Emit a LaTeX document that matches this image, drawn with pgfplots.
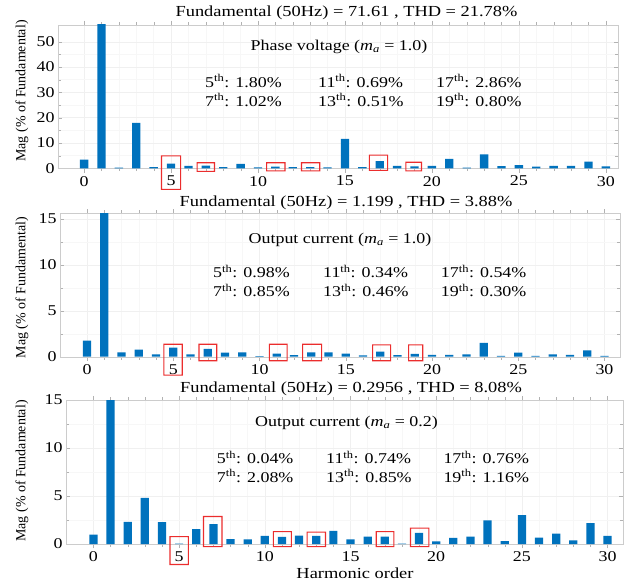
\documentclass[border=0pt]{standalone}
\usepackage{pgfplots}
\pgfplotsset{compat=1.18}
\usepackage{fontspec}
\setmainfont{Liberation Serif}[FakeStretch=1.2]
\newfontfamily\ylfont{Liberation Serif}
\definecolor{mblue}{RGB}{0,114,189}
\definecolor{boxred}{RGB}{235,45,45}

\pgfplotstableread{
h v
0 3.4
1 100
2 0.3
3 17.9
4 0.5
5 1.80
6 1.0
7 1.02
8 0.5
9 1.7
10 0.4
11 0.69
12 0.5
13 0.51
14 0.4
15 11.6
16 0.5
17 2.86
18 1.0
19 0.80
20 1.0
21 3.7
22 0.3
23 5.5
24 0.9
25 1.3
26 0.7
27 1.0
28 1.0
29 2.6
30 0.8
}\vphase

\pgfplotstableread{
h v
0 1.75
1 100
2 0.47
3 0.76
4 0.25
5 0.98
6 0.25
7 0.85
8 0.44
9 0.47
10 0.07
11 0.34
12 0.18
13 0.46
14 0.47
15 0.33
16 0.15
17 0.54
18 0.18
19 0.30
20 0.2
21 0.2
22 0.25
23 1.5
24 0.1
25 0.44
26 0.1
27 0.25
28 0.2
29 0.7
30 0.1
}\icurA

\pgfplotstableread{
h v
0 0.98
1 100
2 2.3
3 4.8
4 2.27
5 0.04
6 1.54
7 2.08
8 0.52
9 0.49
10 0.84
11 0.74
12 0.87
13 0.85
14 1.36
15 0.49
16 0.77
17 0.76
18 0.05
19 1.16
20 0.28
21 0.63
22 0.77
23 2.45
24 0.31
25 3.0
26 0.66
27 1.08
28 0.38
29 2.17
30 0.84
}\icurB

\pgfplotsset{harm/.style={
  scale only axis,
  ymin=0,
  xtick={0,5,...,30}, minor x tick num=4,
  grid=both, major grid style={gray!12}, minor grid style={gray!6},
  axis line style={gray!40}, tick style={gray!60},
  tick align=inside,
  ticklabel style={font=\fontsize{15}{18}\selectfont, text=black},
  /pgf/number format/assume math mode=true,
  clip mode=individual,
  ybar, bar width=0.48, bar shift=0pt,
}}
\tikzset{
  ttl/.style={font=\fontsize{15.4}{18}\selectfont, inner sep=0pt},
  sub/.style={font=\fontsize{15}{18}\selectfont, inner sep=0pt},
  hl/.style={font=\fontsize{15}{18}\selectfont, inner sep=0pt, anchor=west},
  yl/.style={font=\ylfont\fontsize{14}{16}\selectfont, inner sep=0pt, rotate=90},
}
% box corners defined inside an axis, drawn after it as a filled frame
\newcommand\bx[5]{\coordinate (#1a) at (axis cs:#2,#3); \coordinate (#1b) at (axis cs:#4,#5);}
\newcommand\drawboxes[1]{%
  \foreach \n in {#1}{%
    \fill[fill=boxred, even odd rule]
      ([shift={(-0.55pt,-0.55pt)}]\n a) rectangle ([shift={(0.55pt,0.55pt)}]\n b)
      ([shift={(0.55pt,0.55pt)}]\n a) rectangle ([shift={(-0.55pt,-0.55pt)}]\n b);}}

\begin{document}
\begin{tikzpicture}
\path[use as bounding box] (0bp,0bp) rectangle (631bp,-584bp);

% ---------- Panel 1 ----------
\begin{axis}[harm, at={(58bp,-168.3bp)}, anchor=south west,
  width=560bp, height=143.3bp, xmin=-1.5, xmax=30.7, ymax=56.6,
  ytick={0,10,...,50}, minor y tick num=1]
\addplot[fill=mblue, draw=none] table[x=h, y=v] {\vphase};
\bx{pa}{4.45}{-8.3}{5.55}{4.9}
\bx{pb}{6.5}{-1.2}{7.5}{2.2}
\bx{pc}{10.5}{-1.0}{11.55}{2.2}
\bx{pd}{12.5}{-1.0}{13.55}{2.2}
\bx{pe}{16.4}{-0.8}{17.45}{5.2}
\bx{pf}{18.5}{-1.0}{19.4}{2.4}
\end{axis}
\drawboxes{pa,pb,pc,pd,pe,pf}
\node[ttl] at (346.5bp,-13bp) {Fundamental (50Hz) = 71.61 , THD = 21.78\%};
\node[sub] at (339bp,-47bp) {Phase voltage (\textit{m}\textsubscript{\textit{a}} = 1.0)};
\node[hl] at (205bp,-81bp) {5\textsuperscript{th}: 1.80\%};
\node[hl] at (205bp,-100bp) {7\textsuperscript{th}: 1.02\%};
\node[hl] at (318bp,-81bp) {11\textsuperscript{th}: 0.69\%};
\node[hl] at (318bp,-100bp) {13\textsuperscript{th}: 0.51\%};
\node[hl] at (436bp,-81bp) {17\textsuperscript{th}: 2.86\%};
\node[hl] at (436bp,-100bp) {19\textsuperscript{th}: 0.80\%};
\node[yl] at (22bp,-91bp) {Mag (\% of Fundamental)};

% ---------- Panel 2 ----------
\begin{axis}[harm, at={(60bp,-356.7bp)}, anchor=south west,
  width=560bp, height=143.4bp, xmin=-1.57, xmax=30.9, ymax=15.6,
  ytick={0,5,10,15}, minor y tick num=1]
\addplot[fill=mblue, draw=none] table[x=h, y=v] {\icurA};
\bx{qa}{4.45}{-2.0}{5.52}{1.35}
\bx{qb}{6.49}{-0.44}{7.52}{1.35}
\bx{qc}{10.57}{-0.44}{11.6}{1.35}
\bx{qd}{12.5}{-0.44}{13.6}{1.35}
\bx{qe}{16.56}{-0.44}{17.6}{1.28}
\bx{qf}{18.64}{-0.44}{19.46}{1.28}
\end{axis}
\drawboxes{qa,qb,qc,qd,qe,qf}
\node[ttl] at (346bp,-203.3bp) {Fundamental (50Hz) = 1.199 , THD = 3.88\%};
\node[sub] at (340bp,-240bp) {Output current (\textit{m}\textsubscript{\textit{a}} = 1.0)};
\node[hl] at (213bp,-271.7bp) {5\textsuperscript{th}: 0.98\%};
\node[hl] at (213bp,-290.7bp) {7\textsuperscript{th}: 0.85\%};
\node[hl] at (323bp,-271.7bp) {11\textsuperscript{th}: 0.34\%};
\node[hl] at (323bp,-290.7bp) {13\textsuperscript{th}: 0.46\%};
\node[hl] at (440.7bp,-271.7bp) {17\textsuperscript{th}: 0.54\%};
\node[hl] at (440.7bp,-290.7bp) {19\textsuperscript{th}: 0.30\%};
\node[yl] at (22bp,-287.5bp) {Mag (\% of Fundamental)};

% ---------- Panel 3 ----------
\begin{axis}[harm, at={(66bp,-544bp)}, anchor=south west,
  width=557bp, height=144bp, xmin=-1.6, xmax=30.9, ymax=15,
  ytick={0,5,10,15}, minor y tick num=1]
\addplot[fill=mblue, draw=none] table[x=h, y=v] {\icurB};
\bx{ra}{4.47}{-2.13}{5.54}{0.77}
\bx{rb}{6.42}{-0.28}{7.5}{2.87}
\bx{rc}{10.5}{-0.28}{11.55}{1.29}
\bx{rd}{12.47}{-0.28}{13.54}{1.23}
\bx{re}{16.5}{-0.28}{17.53}{1.29}
\bx{rf}{18.5}{-0.28}{19.57}{1.65}
\end{axis}
\drawboxes{ra,rb,rc,rd,re,rf}
\node[ttl] at (351bp,-389.3bp) {Fundamental (50Hz) = 0.2956 , THD = 8.08\%};
\node[sub] at (346.5bp,-423bp) {Output current (\textit{m}\textsubscript{\textit{a}} = 0.2)};
\node[hl] at (216.7bp,-457.3bp) {5\textsuperscript{th}: 0.04\%};
\node[hl] at (216.7bp,-476bp) {7\textsuperscript{th}: 2.08\%};
\node[hl] at (326bp,-457.3bp) {11\textsuperscript{th}: 0.74\%};
\node[hl] at (326bp,-476bp) {13\textsuperscript{th}: 0.85\%};
\node[hl] at (443.3bp,-457.3bp) {17\textsuperscript{th}: 0.76\%};
\node[hl] at (443.3bp,-476bp) {19\textsuperscript{th}: 1.16\%};
\node[yl] at (22bp,-471bp) {Mag (\% of Fundamental)};
\node[ttl] at (355bp,-573bp) {Harmonic order};
\end{tikzpicture}
\end{document}
